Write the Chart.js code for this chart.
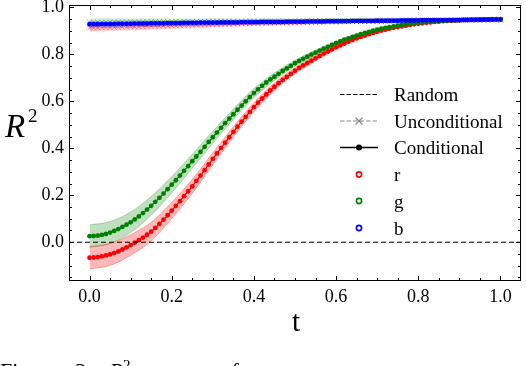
<!DOCTYPE html>
<html>
<head>
<meta charset="utf-8">
<script src="https://cdn.jsdelivr.net/npm/chart.js@4.4.1/dist/chart.umd.min.js"></script>
<style>
  body { margin: 0; background: #fff; }
  #wrap { position: relative; width: 526px; height: 366px; overflow: hidden; }
  #caption { position: absolute; left: 0; top: 357px; font: 22px "Liberation Serif", serif; word-spacing: 12px; white-space: nowrap; color: #000; }
</style>
</head>
<body>
<div id="wrap">
  <canvas id="myChart" width="526" height="366"></canvas>
  <div id="caption">Figure 3: <i>R</i><sup style="font-size:15px">2</sup> scores of</div>
</div>
<script>
// noise level t, sampled every 0.01
const tSteps = Array.from({ length: 101 }, (_, i) => i / 100);

// conditional R^2, green channel
const condG = [
  0.026, 0.0265, 0.028, 0.031, 0.035, 0.041, 0.048, 0.056, 0.065, 0.075,
  0.085, 0.097, 0.110, 0.124, 0.139, 0.155, 0.172, 0.189, 0.207, 0.226,
  0.245, 0.264, 0.284, 0.304, 0.324, 0.345, 0.365, 0.385, 0.406, 0.427,
  0.447, 0.467, 0.487, 0.507, 0.526, 0.545, 0.564, 0.582, 0.600, 0.618,
  0.635, 0.651, 0.666, 0.680, 0.693, 0.705, 0.717, 0.729, 0.740, 0.751,
  0.762, 0.772, 0.781, 0.790, 0.799, 0.807, 0.816, 0.824, 0.832, 0.840,
  0.848, 0.855, 0.862, 0.868, 0.874, 0.880, 0.886, 0.891, 0.896, 0.901,
  0.905, 0.909, 0.913, 0.916, 0.919, 0.922, 0.925, 0.928, 0.930, 0.932,
  0.934, 0.936, 0.938, 0.939, 0.940, 0.941, 0.942, 0.943, 0.944, 0.945,
  0.946, 0.947, 0.947, 0.948, 0.948, 0.949, 0.949, 0.949, 0.950, 0.950, 0.950
];

// conditional R^2, red channel
const condR = [
  -0.066, -0.065, -0.063, -0.060, -0.056, -0.052, -0.046, -0.039, -0.031, -0.022,
  -0.012, -0.002, 0.009, 0.020, 0.032, 0.045, 0.061, 0.078, 0.096, 0.115,
  0.135, 0.155, 0.175, 0.196, 0.217, 0.238, 0.261, 0.284, 0.307, 0.331,
  0.355, 0.378, 0.401, 0.424, 0.447, 0.470, 0.492, 0.513, 0.534, 0.555,
  0.575, 0.594, 0.612, 0.629, 0.646, 0.662, 0.677, 0.691, 0.704, 0.717,
  0.730, 0.742, 0.753, 0.763, 0.773, 0.783, 0.793, 0.803, 0.812, 0.821,
  0.830, 0.838, 0.846, 0.854, 0.861, 0.868, 0.874, 0.880, 0.886, 0.891,
  0.896, 0.901, 0.905, 0.909, 0.913, 0.916, 0.919, 0.922, 0.925, 0.928,
  0.930, 0.932, 0.934, 0.936, 0.938, 0.939, 0.941, 0.942, 0.943, 0.944,
  0.945, 0.946, 0.946, 0.947, 0.947, 0.948, 0.948, 0.949, 0.949, 0.950, 0.950
];

// conditional R^2, blue channel
const condB = [
  0.928, 0.928, 0.928, 0.929, 0.929, 0.929, 0.929, 0.930, 0.930, 0.930,
  0.930, 0.931, 0.931, 0.931, 0.931, 0.932, 0.932, 0.932, 0.932, 0.933,
  0.933, 0.933, 0.933, 0.934, 0.934, 0.934, 0.934, 0.935, 0.935, 0.935,
  0.935, 0.935, 0.936, 0.936, 0.936, 0.936, 0.936, 0.937, 0.937, 0.937,
  0.937, 0.937, 0.938, 0.938, 0.938, 0.938, 0.938, 0.938, 0.939, 0.939,
  0.939, 0.939, 0.939, 0.940, 0.940, 0.940, 0.940, 0.940, 0.941, 0.941,
  0.941, 0.941, 0.941, 0.941, 0.942, 0.942, 0.942, 0.942, 0.942, 0.942,
  0.943, 0.943, 0.943, 0.943, 0.943, 0.943, 0.944, 0.944, 0.944, 0.944,
  0.944, 0.945, 0.945, 0.945, 0.945, 0.945, 0.946, 0.946, 0.946, 0.946,
  0.946, 0.947, 0.947, 0.947, 0.947, 0.947, 0.948, 0.948, 0.948, 0.948, 0.948
];

// unconditional R^2 per channel
const uncondR = [
  0.912, 0.912, 0.913, 0.913, 0.914, 0.914, 0.915, 0.915, 0.916, 0.916,
  0.917, 0.917, 0.918, 0.918, 0.919, 0.919, 0.920, 0.920, 0.921, 0.921,
  0.922, 0.922, 0.923, 0.923, 0.924, 0.924, 0.925, 0.925, 0.926, 0.926,
  0.927, 0.927, 0.928, 0.928, 0.929, 0.929, 0.930, 0.930, 0.931, 0.931,
  0.932, 0.932, 0.932, 0.933, 0.933, 0.933, 0.934, 0.934, 0.934, 0.935,
  0.935, 0.935, 0.936, 0.936, 0.936, 0.937, 0.937, 0.937, 0.938, 0.938,
  0.938, 0.938, 0.939, 0.939, 0.939, 0.940, 0.940, 0.940, 0.940, 0.941,
  0.941, 0.941, 0.941, 0.942, 0.942, 0.942, 0.942, 0.943, 0.943, 0.943,
  0.943, 0.943, 0.944, 0.944, 0.944, 0.944, 0.944, 0.945, 0.945, 0.945,
  0.945, 0.945, 0.945, 0.946, 0.946, 0.946, 0.946, 0.946, 0.946, 0.946, 0.946
];
const uncondG = [
  0.937, 0.937, 0.937, 0.937, 0.937, 0.938, 0.938, 0.938, 0.938, 0.938,
  0.938, 0.938, 0.938, 0.939, 0.939, 0.939, 0.939, 0.939, 0.939, 0.939,
  0.939, 0.940, 0.940, 0.940, 0.940, 0.940, 0.940, 0.940, 0.940, 0.941,
  0.941, 0.941, 0.941, 0.941, 0.941, 0.941, 0.941, 0.941, 0.942, 0.942,
  0.942, 0.942, 0.942, 0.942, 0.942, 0.942, 0.942, 0.942, 0.942, 0.942,
  0.942, 0.943, 0.943, 0.943, 0.943, 0.943, 0.943, 0.943, 0.944, 0.944,
  0.944, 0.944, 0.944, 0.944, 0.944, 0.945, 0.945, 0.945, 0.945, 0.945,
  0.945, 0.945, 0.946, 0.946, 0.946, 0.946, 0.946, 0.946, 0.946, 0.947,
  0.947, 0.947, 0.947, 0.947, 0.947, 0.947, 0.948, 0.948, 0.948, 0.948,
  0.948, 0.948, 0.948, 0.948, 0.949, 0.949, 0.949, 0.949, 0.949, 0.949, 0.949
];
const uncondB = [
  0.926, 0.926, 0.926, 0.927, 0.927, 0.927, 0.928, 0.928, 0.928, 0.928,
  0.929, 0.929, 0.929, 0.929, 0.930, 0.930, 0.930, 0.930, 0.931, 0.931,
  0.931, 0.931, 0.932, 0.932, 0.932, 0.932, 0.933, 0.933, 0.933, 0.933,
  0.934, 0.934, 0.934, 0.934, 0.934, 0.935, 0.935, 0.935, 0.935, 0.935,
  0.936, 0.936, 0.936, 0.936, 0.936, 0.936, 0.937, 0.937, 0.937, 0.937,
  0.937, 0.937, 0.938, 0.938, 0.938, 0.938, 0.938, 0.939, 0.939, 0.939,
  0.939, 0.939, 0.940, 0.940, 0.940, 0.940, 0.940, 0.941, 0.941, 0.941,
  0.941, 0.941, 0.942, 0.942, 0.942, 0.942, 0.942, 0.943, 0.943, 0.943,
  0.943, 0.943, 0.944, 0.944, 0.944, 0.944, 0.944, 0.945, 0.945, 0.945,
  0.945, 0.945, 0.946, 0.946, 0.946, 0.946, 0.946, 0.947, 0.947, 0.947, 0.947
];

// half width of the shaded bands, read every 0.05 in t
const condSpread = [0.048, 0.047, 0.044, 0.040, 0.035, 0.030, 0.026, 0.022, 0.019, 0.016, 0.013,
                    0.011, 0.009, 0.007, 0.006, 0.005, 0.004, 0.0035, 0.003, 0.003, 0.003];
const uncondSpread = [0.016, 0.016, 0.015, 0.015, 0.014, 0.014, 0.013, 0.012, 0.011, 0.010, 0.009,
                      0.009, 0.008, 0.007, 0.007, 0.006, 0.005, 0.005, 0.004, 0.004, 0.004];

// tick positions
const xMajor = [0, 0.2, 0.4, 0.6, 0.8, 1.0];
const xMinor = [0.05, 0.1, 0.15, 0.25, 0.3, 0.35, 0.45, 0.5, 0.55, 0.65, 0.7, 0.75, 0.85, 0.9, 0.95];
const yMajor = [0, 0.2, 0.4, 0.6, 0.8, 1.0];
const yMinor = [-0.15, -0.1, -0.05, 0.05, 0.1, 0.15, 0.25, 0.3, 0.35, 0.45, 0.5, 0.55, 0.65, 0.7, 0.75, 0.85, 0.9, 0.95];

const legendItems = ['Random', 'Unconditional', 'Conditional', 'r', 'g', 'b'];

const RED = '#ff0000', GREEN = '#008000', BLUE = '#0000ff';
const serif = '"Liberation Serif", "Times New Roman", serif';

function points(vals) {
    return vals.map((v, i) => ({ x: tSteps[i], y: v }));
}

// band edge, sampled every 5th step
function bandEdge(vals, spread, sign) {
    return spread.map((s, k) => ({ x: tSteps[k * 5], y: vals[k * 5] + sign * s }));
}

function bandPair(vals, spread, fillColor, edgeColor) {
    const base = { pointRadius: 0, borderWidth: 0.8, borderColor: edgeColor, cubicInterpolationMode: 'monotone', order: 20 };
    return [
        Object.assign({}, base, { data: bandEdge(vals, spread, -1), fill: false }),
        Object.assign({}, base, { data: bandEdge(vals, spread, 1), fill: '-1', backgroundColor: fillColor })
    ];
}

function condLine(vals, color, order) {
    return {
        data: points(vals), borderColor: color, borderWidth: 1.3, pointRadius: 2.4,
        pointBackgroundColor: color, pointBorderWidth: 0, fill: false, order: order
    };
}

function uncondLine(vals, color, order) {
    return {
        data: points(vals), borderColor: color, borderWidth: 1, borderDash: [4, 2],
        pointStyle: 'crossRot', pointRadius: 3.5, pointBorderColor: color, pointBorderWidth: 1,
        fill: false, order: order
    };
}

const datasets = [
    { data: [{ x: -0.05, y: 0 }, { x: 1.05, y: 0 }], borderColor: '#000', borderWidth: 1.2,
      borderDash: [5, 3], pointRadius: 0, fill: false, order: 0 },
    condLine(condB, BLUE, 1),
    condLine(condG, GREEN, 2),
    condLine(condR, RED, 3),
    uncondLine(uncondB, 'rgba(0,0,255,0.4)', 4),
    uncondLine(uncondG, 'rgba(0,128,0,0.4)', 5),
    uncondLine(uncondR, 'rgba(255,0,0,0.4)', 6),
    ...bandPair(condR, condSpread, 'rgba(255,0,0,0.28)', 'rgba(255,0,0,0.35)'),
    ...bandPair(condG, condSpread, 'rgba(0,128,0,0.25)', 'rgba(0,128,0,0.3)'),
    ...bandPair(uncondR, uncondSpread, 'rgba(255,0,0,0.15)', 'rgba(255,0,0,0)'),
    ...bandPair(uncondG, uncondSpread, 'rgba(0,128,0,0.15)', 'rgba(0,128,0,0)'),
    ...bandPair(uncondB, uncondSpread, 'rgba(0,0,255,0.15)', 'rgba(0,0,255,0)')
];

// frame, inward ticks, axis titles and the legend
const decorations = {
    id: 'decorations',
    afterDraw(chart) {
        const ctx = chart.ctx;
        const a = chart.chartArea;
        const xs = chart.scales.x, ys = chart.scales.y;
        ctx.save();
        ctx.strokeStyle = '#000';
        ctx.lineWidth = 1;
        ctx.setLineDash([]);
        ctx.strokeRect(a.left + 0.5, a.top + 0.5, a.right - a.left - 1, a.bottom - a.top - 1);

        ctx.beginPath();
        const xTick = (v, len) => {
            const px = Math.round(xs.getPixelForValue(v)) + 0.5;
            ctx.moveTo(px, a.bottom); ctx.lineTo(px, a.bottom - len);
            ctx.moveTo(px, a.top); ctx.lineTo(px, a.top + len);
        };
        const yTick = (v, len) => {
            const py = Math.round(ys.getPixelForValue(v)) + 0.5;
            ctx.moveTo(a.left, py); ctx.lineTo(a.left + len, py);
            ctx.moveTo(a.right, py); ctx.lineTo(a.right - len, py);
        };
        xMajor.forEach(v => xTick(v, 5));
        xMinor.forEach(v => xTick(v, 3));
        yMajor.forEach(v => yTick(v, 5));
        yMinor.forEach(v => yTick(v, 3));
        ctx.stroke();

        // axis titles
        ctx.fillStyle = '#000';
        ctx.textAlign = 'left';
        ctx.textBaseline = 'alphabetic';
        ctx.font = 'italic 33px ' + serif;
        ctx.fillText('R', 5, 137);
        ctx.font = '19px ' + serif;
        ctx.fillText('2', 28, 122);
        ctx.font = '29px ' + serif;
        ctx.textAlign = 'center';
        ctx.fillText('t', 296, 331);

        // legend
        const lx0 = 340, lx1 = 378, mx = 359, tx = 394;
        const rowY = [94.5, 121, 147.5, 174.5, 201, 228];
        ctx.font = '19px ' + serif;
        ctx.textAlign = 'left';
        legendItems.forEach((label, i) => {
            const y = rowY[i];
            ctx.fillStyle = '#000';
            ctx.fillText(label, tx, y + 6.5);
            if (i === 0) {
                ctx.strokeStyle = '#000'; ctx.lineWidth = 1.2; ctx.setLineDash([4.5, 2]);
                ctx.beginPath(); ctx.moveTo(lx0, y); ctx.lineTo(lx1, y); ctx.stroke();
            } else if (i === 1) {
                ctx.strokeStyle = '#8a8a8a'; ctx.lineWidth = 1.2; ctx.setLineDash([4.5, 2]);
                ctx.beginPath(); ctx.moveTo(lx0, y); ctx.lineTo(lx1, y); ctx.stroke();
                ctx.setLineDash([]);
                ctx.beginPath();
                ctx.moveTo(mx - 3.5, y - 3.5); ctx.lineTo(mx + 3.5, y + 3.5);
                ctx.moveTo(mx - 3.5, y + 3.5); ctx.lineTo(mx + 3.5, y - 3.5);
                ctx.stroke();
            } else if (i === 2) {
                ctx.strokeStyle = '#000'; ctx.lineWidth = 1.5; ctx.setLineDash([]);
                ctx.beginPath(); ctx.moveTo(lx0, y); ctx.lineTo(lx1, y); ctx.stroke();
                ctx.beginPath(); ctx.arc(mx, y, 3, 0, Math.PI * 2); ctx.fillStyle = '#000'; ctx.fill();
            } else {
                const c = [RED, GREEN, BLUE][i - 3];
                ctx.strokeStyle = c; ctx.lineWidth = 1.6; ctx.setLineDash([]);
                ctx.beginPath(); ctx.arc(mx, y, 2.6, 0, Math.PI * 2); ctx.stroke();
            }
        });
        ctx.restore();
    }
};

const ctx = document.getElementById('myChart');
const config = {
    type: 'line',
    data: { datasets: datasets },
    options: {
        responsive: false,
        animation: false,
        layout: { padding: { top: 5, right: 4, left: 0, bottom: 0 } },
        plugins: { legend: { display: false }, tooltip: { enabled: false } },
        scales: {
            x: {
                type: 'linear', min: -0.05, max: 1.05,
                grid: { display: false, drawTicks: false },
                border: { display: false },
                ticks: {
                    color: '#000', font: { family: serif, size: 18 }, padding: 5, maxRotation: 0,
                    callback: v => v.toFixed(1)
                },
                afterBuildTicks: s => { s.ticks = xMajor.map(v => ({ value: v })); },
                afterFit: s => { s.height = 85; s.paddingLeft = 0; s.paddingRight = 0; }
            },
            y: {
                type: 'linear', min: -0.165, max: 1.01,
                grid: { display: false, drawTicks: false },
                border: { display: false },
                ticks: {
                    color: '#000', font: { family: serif, size: 18 }, padding: 5,
                    callback: v => v.toFixed(1)
                },
                afterBuildTicks: s => { s.ticks = yMajor.map(v => ({ value: v })); },
                afterFit: s => { s.width = 69; s.paddingTop = 0; s.paddingBottom = 0; }
            }
        }
    },
    plugins: [decorations]
};

new Chart(ctx, config);
</script>
</body>
</html>
